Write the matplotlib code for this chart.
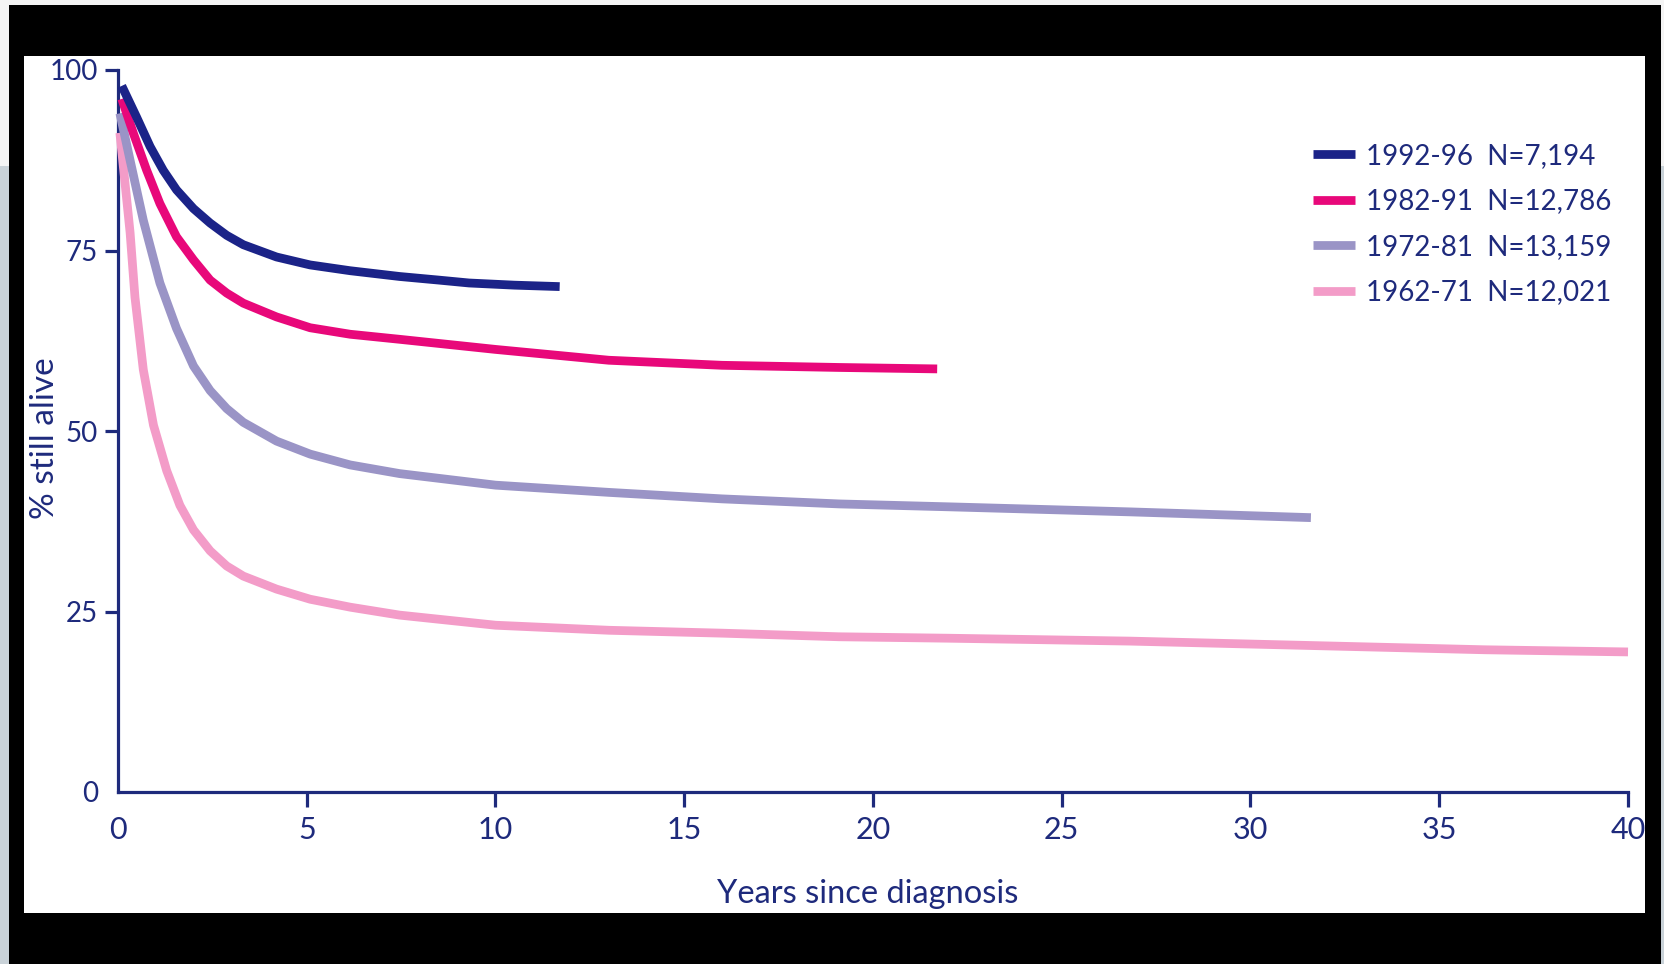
import matplotlib
matplotlib.use("Agg")
import matplotlib.pyplot as plt
from matplotlib.patches import Rectangle

plt.rcParams['font.family'] = ['Lato', 'DejaVu Sans']

# ── data ──────────────────────────────────────────────────────
LABELS = ['1992-96  N=7,194', '1982-91  N=12,786', '1972-81  N=13,159', '1962-71  N=12,021']
COLORS = ['#1b2388', '#e8087a', '#9a94c6', '#f39cc8']

x_9296 = [0.10, 0.49, 0.85, 1.20, 1.55, 2.0, 2.44, 2.88, 3.32, 4.20, 5.09, 6.15, 7.46, 8.5, 9.3, 10.5, 11.7]
y_9296 = [97.8, 93.5, 89.4, 86.1, 83.4, 80.8, 78.8, 77.1, 75.8, 74.1, 73.0, 72.2, 71.4, 70.9, 70.5, 70.2, 70.0]

x_8291 = [0.10, 0.41, 0.76, 1.11, 1.55, 2.0, 2.44, 2.88, 3.32, 4.20, 5.09, 6.15, 7.46, 10.0, 13.0, 16.0, 19.1, 21.7]
y_8291 = [96.0, 91.2, 86.1, 81.5, 76.9, 73.7, 70.9, 69.1, 67.7, 65.8, 64.3, 63.4, 62.7, 61.3, 59.8, 59.1, 58.8, 58.6]

x_7281 = [0.05, 0.32, 0.67, 1.11, 1.55, 2.0, 2.44, 2.88, 3.32, 4.20, 5.09, 6.15, 7.46,
          10.0, 13.0, 16.0, 19.1, 22.0, 26.8, 31.6]
y_7281 = [94.0, 87.5, 79.2, 70.5, 64.2, 59.0, 55.6, 53.1, 51.2, 48.6, 46.8, 45.3, 44.1,
          42.5, 41.5, 40.6, 39.9, 39.5, 38.8, 38.0]

x_6271 = [0.05, 0.32, 0.45, 0.67, 0.94, 1.29, 1.64, 2.0, 2.44, 2.88, 3.32, 4.20, 5.09, 6.15, 7.46,
          10.0, 13.0, 16.0, 19.1, 22.0, 26.8, 31.5, 36.2, 40.0]
y_6271 = [91.3, 77.5, 68.5, 58.5, 50.8, 44.5, 39.7, 36.3, 33.4, 31.3, 29.9, 28.1, 26.7, 25.6, 24.5,
          23.1, 22.4, 22.0, 21.5, 21.3, 20.9, 20.3, 19.7, 19.4]

SERIES = [(x_9296, y_9296), (x_8291, y_8291), (x_7281, y_7281), (x_6271, y_6271)]

X_TICKS = [0, 5, 10, 15, 20, 25, 30, 35, 40]
Y_TICKS = [0, 25, 50, 75, 100]

NAVY = '#1e2a7c'
W, H = 1665, 964

# ── frame ─────────────────────────────────────────────────────
fig = plt.figure(figsize=(W / 100, H / 100), dpi=100)
fig.patch.set_facecolor('black')

def px_rect(x0, y0, x1, y1, color):
    # rectangle in pixel coords (origin top-left)
    fig.patches.append(Rectangle((x0 / W, 1 - y1 / H), (x1 - x0) / W, (y1 - y0) / H,
                                 transform=fig.transFigure, facecolor=color,
                                 edgecolor='none', zorder=-10))

px_rect(0, 0, W, 5, '#f4f4f4')
px_rect(0, 0, 9, 166, '#f4f4f4')
px_rect(0, 166, 9, H, '#c9d2d8')
px_rect(1661, 0, W, 166, '#f4f4f4')
px_rect(1661, 166, W, H, '#c9d2d8')
px_rect(24, 56, 1645, 913, 'white')

# ── chart ─────────────────────────────────────────────────────
ax = fig.add_axes([118 / W, 1 - 792 / H, 1510 / W, 722 / H])
ax.set_facecolor('none')

for i, (xs, ys) in enumerate(SERIES):
    ax.plot(xs, ys, color=COLORS[i], linewidth=6.3, label=LABELS[i],
            solid_capstyle='butt', solid_joinstyle='round', clip_on=False, zorder=10 - i)

ax.set_xlim(0, 40)
ax.set_ylim(0, 100)
ax.set_xticks(X_TICKS)
ax.set_yticks(Y_TICKS)

for side in ['top', 'right']:
    ax.spines[side].set_visible(False)
for side in ['left', 'bottom']:
    ax.spines[side].set_color(NAVY)
    ax.spines[side].set_linewidth(2.3)

ax.tick_params(axis='y', direction='out', length=9.5, width=2.3, color=NAVY,
               labelcolor=NAVY, labelsize=20, pad=5)
ax.tick_params(axis='x', direction='out', length=11, width=2.3, color=NAVY,
               labelcolor=NAVY, labelsize=22, pad=6)
ax.xaxis.get_major_ticks()[0].tick1line.set_visible(False)
ax.yaxis.get_major_ticks()[0].tick1line.set_visible(False)

fig.text(868 / W, 1 - 903 / H, 'Years since diagnosis', ha='center', va='baseline',
         fontsize=23.5, color=NAVY)
fig.text(45 / W, 1 - 438 / H, '% still alive', ha='center', va='center', rotation=90,
         fontsize=24, color=NAVY)

leg = ax.legend(loc='upper left', bbox_to_anchor=(1313 / W, 1 - 143 / H),
                bbox_transform=fig.transFigure, frameon=False, fontsize=20,
                handlelength=1.5, handletextpad=0.4, labelspacing=0.7,
                borderpad=0, borderaxespad=0)
for t in leg.get_texts():
    t.set_color(NAVY)
for h in leg.get_lines():
    h.set_linewidth(6.3)

fig.savefig('out.png', dpi=100, facecolor=fig.get_facecolor())
